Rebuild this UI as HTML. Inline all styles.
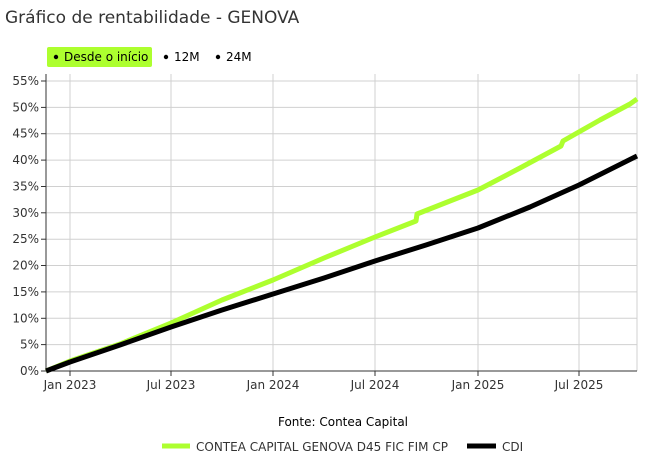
<!DOCTYPE html>
<html><head><meta charset="utf-8"><style>
body{margin:0;background:#fff;font-family:"DejaVu Sans","Liberation Sans",sans-serif;}
</style></head><body>
<svg width="648" height="458" xmlns="http://www.w3.org/2000/svg" font-family="DejaVu Sans, Liberation Sans, sans-serif">
<rect width="648" height="458" fill="#fff"/>
<text x="5" y="23" font-size="17" fill="#333">Gráfico de rentabilidade - GENOVA</text>
<rect x="47" y="47" width="105" height="20" rx="2" fill="#adff2f"/>
<g font-size="12" fill="#000">
<circle cx="56" cy="57" r="2.2"/><text x="64" y="61">Desde o início</text>
<circle cx="166" cy="57" r="2.2"/><text x="174" y="61">12M</text>
<circle cx="218" cy="57" r="2.2"/><text x="226" y="61">24M</text>
</g>
<g stroke="#d0d0d0" stroke-width="1">
<line x1="46" x2="637" y1="81" y2="81"/><line x1="46" x2="637" y1="107.4" y2="107.4"/>
<line x1="46" x2="637" y1="133.7" y2="133.7"/><line x1="46" x2="637" y1="160.1" y2="160.1"/>
<line x1="46" x2="637" y1="186.5" y2="186.5"/><line x1="46" x2="637" y1="212.8" y2="212.8"/>
<line x1="46" x2="637" y1="239.2" y2="239.2"/><line x1="46" x2="637" y1="265.5" y2="265.5"/>
<line x1="46" x2="637" y1="291.9" y2="291.9"/><line x1="46" x2="637" y1="318.3" y2="318.3"/>
<line x1="46" x2="637" y1="344.6" y2="344.6"/>
<line x1="70" x2="70" y1="74" y2="371"/><line x1="171" x2="171" y1="74" y2="371"/>
<line x1="273" x2="273" y1="74" y2="371"/><line x1="375" x2="375" y1="74" y2="371"/>
<line x1="478" x2="478" y1="74" y2="371"/><line x1="579" x2="579" y1="74" y2="371"/>
<line x1="637" x2="637" y1="74" y2="371"/>
</g>
<g stroke="#333" stroke-width="1">
<line x1="46" x2="46" y1="74" y2="371"/><line x1="46" x2="637" y1="371" y2="371"/>
<line x1="41" x2="46" y1="81" y2="81"/><line x1="41" x2="46" y1="107.4" y2="107.4"/>
<line x1="41" x2="46" y1="133.7" y2="133.7"/><line x1="41" x2="46" y1="160.1" y2="160.1"/>
<line x1="41" x2="46" y1="186.5" y2="186.5"/><line x1="41" x2="46" y1="212.8" y2="212.8"/>
<line x1="41" x2="46" y1="239.2" y2="239.2"/><line x1="41" x2="46" y1="265.5" y2="265.5"/>
<line x1="41" x2="46" y1="291.9" y2="291.9"/><line x1="41" x2="46" y1="318.3" y2="318.3"/>
<line x1="41" x2="46" y1="344.6" y2="344.6"/><line x1="41" x2="46" y1="371" y2="371"/>
<line x1="70" x2="70" y1="371" y2="376"/><line x1="171" x2="171" y1="371" y2="376"/>
<line x1="273" x2="273" y1="371" y2="376"/><line x1="375" x2="375" y1="371" y2="376"/>
<line x1="478" x2="478" y1="371" y2="376"/><line x1="579" x2="579" y1="371" y2="376"/>
</g>
<g font-size="12" fill="#333" text-anchor="end">
<text x="39" y="85">55%</text><text x="39" y="111.4">50%</text><text x="39" y="137.7">45%</text>
<text x="39" y="164.1">40%</text><text x="39" y="190.5">35%</text><text x="39" y="216.8">30%</text>
<text x="39" y="243.2">25%</text><text x="39" y="269.5">20%</text><text x="39" y="295.9">15%</text>
<text x="39" y="322.3">10%</text><text x="39" y="348.6">5%</text><text x="39" y="375">0%</text>
</g>
<g font-size="12" fill="#333" text-anchor="middle">
<text x="70" y="389">Jan 2023</text><text x="171" y="389">Jul 2023</text><text x="273" y="389">Jan 2024</text>
<text x="375" y="389">Jul 2024</text><text x="478" y="389">Jan 2025</text><text x="579" y="389">Jul 2025</text>
</g>
<polyline fill="none" stroke="#adff2f" stroke-width="5" stroke-linejoin="round" points="46,371 70,361 120,344 171,323 222,300 273,280 324,258 375,237 416,221 417,214 450,201 478,190 520,168 561,146 563,141 600,120 630,104 637,99"/>
<polyline fill="none" stroke="#000" stroke-width="5" stroke-linejoin="round" points="46,371 70,362 120,345 171,327 222,310 273,294 324,278 375,261 426,245 478,228 530,207 579,185 637,156"/>
<text x="343" y="426" font-size="12" fill="#000" text-anchor="middle">Fonte: Contea Capital</text>
<line x1="162" x2="190" y1="446" y2="446" stroke="#adff2f" stroke-width="5"/>
<text x="196" y="451" font-size="12" fill="#333">CONTEA CAPITAL GENOVA D45 FIC FIM CP</text>
<line x1="467" x2="496" y1="446" y2="446" stroke="#000" stroke-width="5"/>
<text x="502" y="451" font-size="12" fill="#333">CDI</text>
</svg>
</body></html>
